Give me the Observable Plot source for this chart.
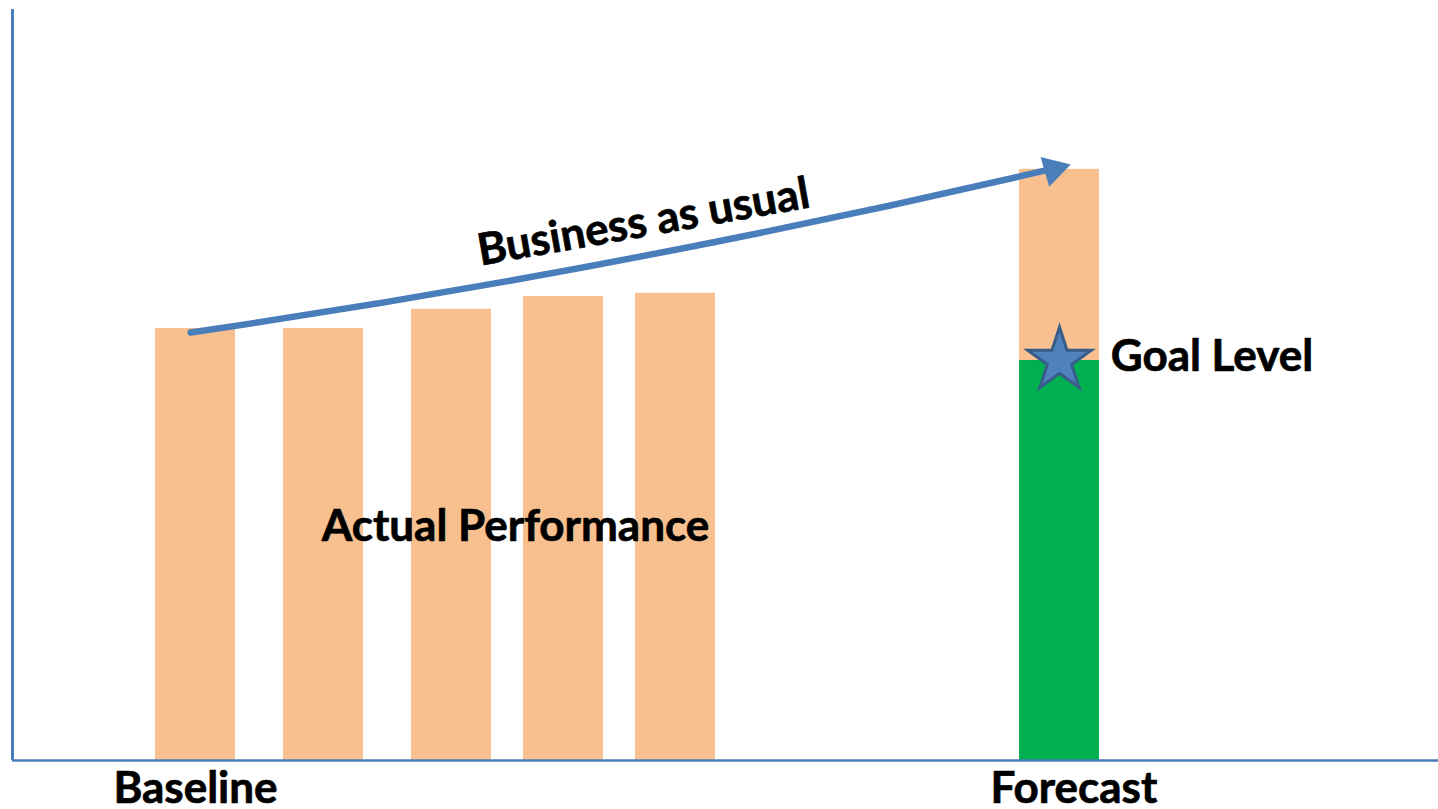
<!DOCTYPE html>
<html><head><meta charset="utf-8">
<script src="https://cdn.jsdelivr.net/npm/d3@7"></script>
<script src="https://cdn.jsdelivr.net/npm/@observablehq/plot@0.6"></script>
<style>html,body{margin:0;padding:0;background:#fff;} svg{display:block}</style>
</head><body><div id="chart"></div>
<script>
// ---- data ----
const actualPeriods = [0, 8, 16, 23, 30];
const actualValues = [108, 108, 112.8, 116, 116.8];
const forecastPeriod = [54];
const forecastValue = [147.8];
const goalValue = [100];
const categoryLabels = ["Baseline", "Forecast"];
const categoryPeriods = [0, 54.9];
const trendFrom = [-0.3, 107];   // [period, value]
const trendTo = [54.7, 149];
const trendLabel = ["Business as usual"];
const trendLabelAt = [28, 134.5];
const actualLabel = ["Actual Performance"];
const actualLabelAt = [20, 58.5];
const goalLabel = ["Goal Level"];
const goalLabelAt = [57.2, 101];

const actualRows = actualPeriods.map((p, i) => ({period: p, value: actualValues[i]}));
const forecastRows = forecastPeriod.map((p, i) => ({period: p, total: forecastValue[i], goal: goalValue[i]}));
const categoryRows = categoryLabels.map((l, i) => ({label: l, period: categoryPeriods[i]}));
const trendRows = [{x1: trendFrom[0], y1: trendFrom[1], x2: trendTo[0], y2: trendTo[1]}];

const orange = "#F9C08F", green = "#00B050", blue = "#4A7EBB";
const half = 2.5;
const font = "Lato";
const textStyle = {fontSize: 44, fontWeight: "bold", fill: "black", stroke: "black", strokeWidth: 0.7, lineAnchor: "middle"};

// arrowhead: filled triangle, pointing along the end tangent of the arc
const headAngle = -16;            // degrees, screen direction of the tip
const headR = 11.5;               // Plot dot radius for the triangle symbol
const headBack = 2 * Math.sqrt(Math.PI * headR * headR / (Math.sqrt(3) * 3)); // centroid-to-tip distance
const rad = headAngle * Math.PI / 180;

const chart = Plot.plot({
  width: 1438,
  height: 809,
  marginLeft: 12,
  marginRight: 0,
  marginTop: 9,
  marginBottom: 49,
  x: {domain: [-11.4375, 77.6875], axis: null},
  y: {domain: [0, 187.75], axis: null},
  style: {fontFamily: font, background: "white", overflow: "visible"},
  marks: [
    Plot.rectY(actualRows, {x1: d => d.period - half, x2: d => d.period + half, y: "value", fill: orange}),
    Plot.rectY(forecastRows, {x1: d => d.period - half, x2: d => d.period + half, y: "total", fill: orange}),
    Plot.rectY(forecastRows, {x1: d => d.period - half, x2: d => d.period + half, y: "goal", fill: green}),
    Plot.ruleX([-11.4375], {stroke: blue, strokeWidth: 3}),
    Plot.ruleY([0], {stroke: blue, strokeWidth: 2.5}),
    Plot.arrow(trendRows, {x1: "x1", y1: "y1", x2: "x2", y2: "y2", bend: -2.5, stroke: blue, strokeWidth: 6.5, headLength: 0, insetEnd: 15}),
    Plot.dot([trendTo], {x: d => d[0], y: d => d[1], symbol: "triangle", r: headR, rotate: 90 + headAngle,
      dx: -headBack * Math.cos(rad), dy: -headBack * Math.sin(rad), fill: blue, stroke: "none"}),
    Plot.dot(forecastRows, {x: "period", y: "goal", symbol: "star", r: 20, fill: "#4F81BD", stroke: "#385D8A", strokeWidth: 3}),
    Plot.text(trendLabel, {x: () => trendLabelAt[0], y: () => trendLabelAt[1], text: d => d, rotate: -10, textAnchor: "middle", ...textStyle}),
    Plot.text(actualLabel, {x: () => actualLabelAt[0], y: () => actualLabelAt[1], text: d => d, textAnchor: "middle", ...textStyle}),
    Plot.text(goalLabel, {x: () => goalLabelAt[0], y: () => goalLabelAt[1], text: d => d, textAnchor: "start", ...textStyle}),
    Plot.text(categoryRows, {x: "period", frameAnchor: "bottom", dy: 28, text: "label", textAnchor: "middle", ...textStyle})
  ]
});
document.getElementById("chart").append(chart);
</script>
</body></html>
